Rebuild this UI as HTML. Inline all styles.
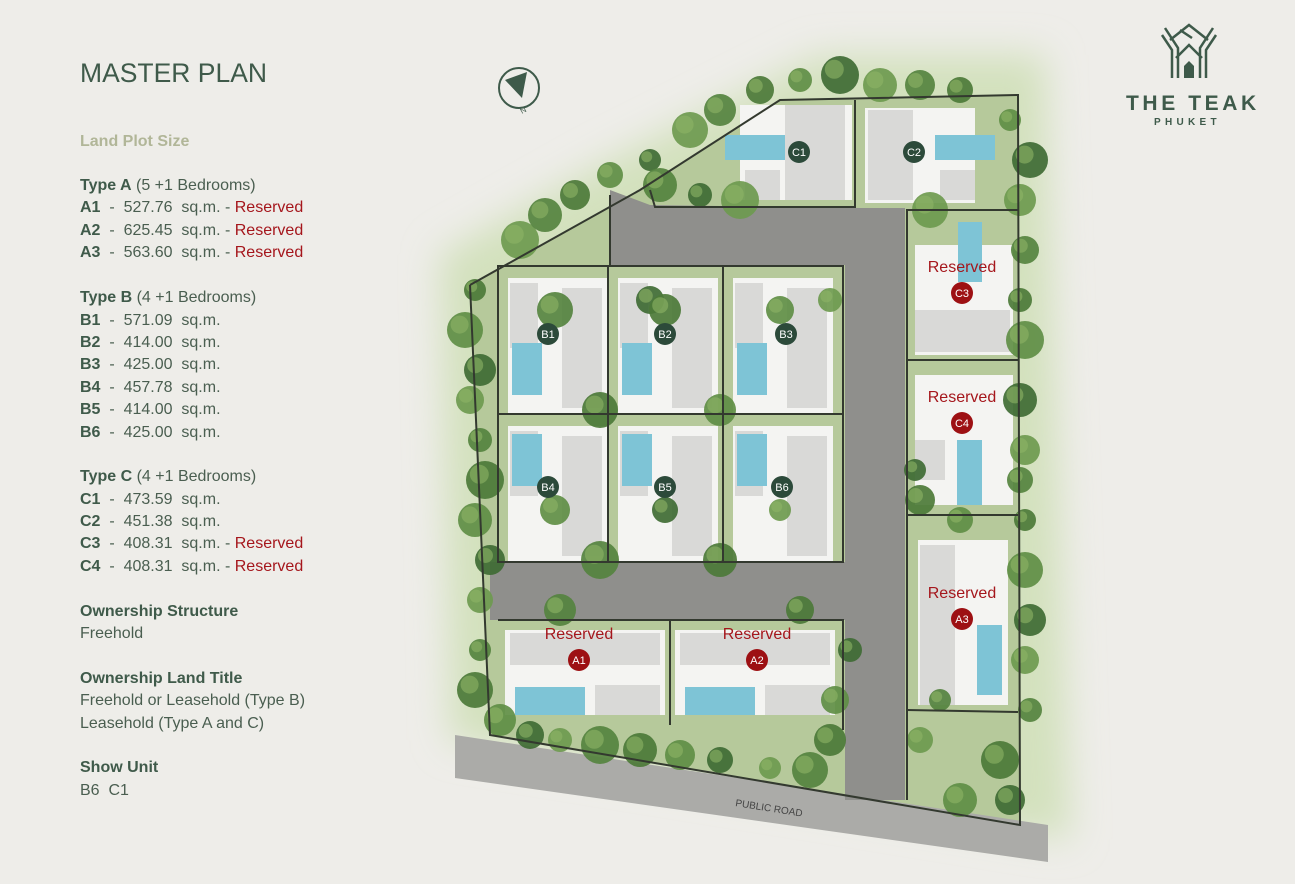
<!DOCTYPE html>
<html><head><meta charset="utf-8">
<style>
html,body{margin:0;padding:0;background:#eeede9;}
body{width:1295px;height:884px;overflow:hidden;position:relative;font-family:"Liberation Sans",sans-serif;}
.panel{position:absolute;left:80px;top:0;color:#4a5e50;font-size:16px;}
.panel div{position:absolute;white-space:pre;left:0;}
.t{font-size:26.5px;color:#3f5a4a;}
b{color:#3f5a4a;}
.r{color:#a5161c;}
.g{color:#b1b698;font-weight:bold;}
svg{position:absolute;left:0;top:0;}
</style></head><body>
<svg id="s" width="1295" height="884" viewBox="0 0 1295 884">
<defs>
<filter id="bl" x="-20%" y="-20%" width="140%" height="140%"><feGaussianBlur stdDeviation="18"/></filter>
</defs>
<polygon points="440,255 600,165 820,55 1045,55 1070,840 450,740" fill="#d3e1bd" filter="url(#bl)"/>
<polygon points="470,285 640,190 780,100 1018,95 1020,825 490,735" fill="#b6c99b"/>
<polygon points="455,735 1048,825 1048,862 455,778" fill="#ababa8"/>
<polygon points="610,190 650,205 860,208 905,208 905,800 845,800 845,620 490,620 490,562 845,562 845,265 610,265" fill="#8f8f8c"/>
<g id="plots"></g>
<g id="trees"></g>
<g fill="none" stroke="#33392f" stroke-width="2">
<polyline points="470,285 640,190 780,100 1018,95 1020,825 490,735 470,285"/>
<polyline points="610,195 610,265"/>
<polyline points="650,190 655,207 855,207 855,100"/>
<rect x="498" y="266" width="345" height="296"/>
<line x1="608" y1="266" x2="608" y2="562"/><line x1="723" y1="266" x2="723" y2="562"/>
<line x1="498" y1="414" x2="843" y2="414"/>
<polyline points="498,620 843,620 843,730"/><line x1="670" y1="620" x2="670" y2="725"/>
<polyline points="907,800 907,210 1018,210"/>
<line x1="907" y1="360" x2="1018" y2="360"/><line x1="907" y1="515" x2="1018" y2="515"/><line x1="907" y1="710" x2="1018" y2="712"/>
</g>
<text x="735" y="806" font-size="10" fill="#444" transform="rotate(9 735 806)" font-family="Liberation Sans">PUBLIC ROAD</text>
<g id="labels"></g>
<circle cx="519" cy="88" r="20" fill="none" stroke="#3e5a4a" stroke-width="2"/>
<polygon points="505,80 527,72 522,98" fill="#3e5a4a"/>
<text x="522" y="114" font-size="8" fill="#3e5a4a" transform="rotate(-30 522 114)">N</text>
<g stroke="#3e5a4a" stroke-width="2.5" fill="none">
<path d="M1172,78 V50 L1162,35 M1178,78 V48 L1165,28 M1206,78 V50 L1216,35 M1200,78 V48 L1213,28 M1176,58 L1189,45 L1202,58 M1170,40 L1189,25 L1208,40 M1180,30 L1192,38"/>
</g>
<path d="M1184,78 V66 L1189,61 L1194,66 V78 Z" fill="#3e5a4a"/>
<text x="1126" y="110" font-size="21" font-weight="bold" fill="#3e5a4a" letter-spacing="3.6" font-family="Liberation Sans">THE TEAK</text>
<text x="1154" y="125" font-size="10" font-weight="bold" fill="#3e5a4a" letter-spacing="4.3" font-family="Liberation Sans">PHUKET</text>
</svg>
<div class="panel">
<div class="t" style="top:58px">MASTER PLAN</div>
<div class="g" style="top:133px">Land Plot Size</div>
<div style="top:177px"><b>Type A</b> (5 +1 Bedrooms)</div>
<div style="top:199px"><b>A1</b>  -  527.76  sq.m. - <span class="r">Reserved</span></div>
<div style="top:222px"><b>A2</b>  -  625.45  sq.m. - <span class="r">Reserved</span></div>
<div style="top:244px"><b>A3</b>  -  563.60  sq.m. - <span class="r">Reserved</span></div>
<div style="top:289px"><b>Type B</b> (4 +1 Bedrooms)</div>
<div style="top:312px"><b>B1</b>  -  571.09  sq.m.</div>
<div style="top:334px"><b>B2</b>  -  414.00  sq.m.</div>
<div style="top:356px"><b>B3</b>  -  425.00  sq.m.</div>
<div style="top:379px"><b>B4</b>  -  457.78  sq.m.</div>
<div style="top:401px"><b>B5</b>  -  414.00  sq.m.</div>
<div style="top:424px"><b>B6</b>  -  425.00  sq.m.</div>
<div style="top:468px"><b>Type C</b> (4 +1 Bedrooms)</div>
<div style="top:491px"><b>C1</b>  -  473.59  sq.m.</div>
<div style="top:513px"><b>C2</b>  -  451.38  sq.m.</div>
<div style="top:535px"><b>C3</b>  -  408.31  sq.m. - <span class="r">Reserved</span></div>
<div style="top:558px"><b>C4</b>  -  408.31  sq.m. - <span class="r">Reserved</span></div>
<div style="top:603px"><b>Ownership Structure</b></div>
<div style="top:625px">Freehold</div>
<div style="top:670px"><b>Ownership Land Title</b></div>
<div style="top:692px">Freehold or Leasehold (Type B)</div>
<div style="top:715px">Leasehold (Type A and C)</div>
<div style="top:759px"><b>Show Unit</b></div>
<div style="top:782px">B6  C1</div>
</div>
<script>
var NS="http://www.w3.org/2000/svg";
function el(p,t,a,txt){var e=document.createElementNS(NS,t);for(var k in a)e.setAttribute(k,a[k]);if(txt)e.textContent=txt;p.appendChild(e);return e;}
var P=document.getElementById("plots"),T=document.getElementById("trees"),L=document.getElementById("labels");
function R(x,y,w,h,f){el(P,"rect",{x:x,y:y,width:w,height:h,fill:f});}
[[500,268],[610,268],[725,268],[500,416],[610,416],[725,416]].forEach(function(p,i){
 var x=p[0],y=p[1],top=i<3;
 R(x+8,y+10,100,135,"#f4f4f2");
 R(x+10,y+15,28,65,"#d9d9d7");
 R(x+62,y+20,40,120,"#d9d9d7");
 R(x+12,top?y+75:y+18,30,52,"#7ec4d6");
});
[[505,625],[675,625]].forEach(function(p){var x=p[0],y=p[1];
 R(x,y+5,160,85,"#f4f4f2");R(x+5,y+8,150,32,"#d9d9d7");R(x+90,y+60,65,30,"#d9d9d7");R(x+10,y+62,70,28,"#7ec4d6");});
R(740,105,112,95,"#f4f4f2");R(785,105,60,95,"#d9d9d7");R(745,170,35,30,"#d9d9d7");R(725,135,60,25,"#7ec4d6");
R(865,108,110,95,"#f4f4f2");R(868,110,45,90,"#d9d9d7");R(940,170,35,30,"#d9d9d7");R(935,135,60,25,"#7ec4d6");
R(915,245,98,110,"#f4f4f2");R(915,310,95,42,"#d9d9d7");R(958,222,24,60,"#7ec4d6");
R(915,375,98,130,"#f4f4f2");R(915,440,30,40,"#d9d9d7");R(957,440,25,65,"#7ec4d6");
R(918,540,90,165,"#f4f4f2");R(920,545,35,160,"#d9d9d7");R(977,625,25,70,"#7ec4d6");
var pts=[[475,290],[465,330],[480,370],[470,400],[480,440],[485,480],[475,520],[490,560],[480,600],[480,650],[475,690],[500,720],[530,735],[560,740],[600,745],[640,750],[680,755],[720,760],[770,768],[810,770],[830,740],[835,700],[850,650],
[520,240],[545,215],[575,195],[610,175],[650,160],[690,130],[720,110],[760,90],[800,80],[840,75],[880,85],[920,85],[960,90],[1010,120],[1030,160],[1020,200],[1025,250],[1020,300],[1025,340],[1020,400],[1025,450],[1020,480],[1025,520],[1025,570],[1030,620],[1025,660],[1030,710],[1000,760],[960,800],[1010,800],[920,740],[940,700],
[600,410],[720,410],[650,300],[830,300],[600,560],[720,560],[555,510],[665,510],[780,510],[555,310],[665,310],[780,310],[700,195],[740,200],[660,185],[920,500],[960,520],[915,470],[930,210],[560,610],[800,610]];
var cols=["#4c7a38","#5f8e45","#3f6b34","#6e9a4f","#55833f"];
pts.forEach(function(p,i){var r=11+(i*7)%9;
 el(T,"circle",{cx:p[0],cy:p[1],r:r,fill:cols[i%5],opacity:0.92});
 el(T,"circle",{cx:p[0]-r*0.3,cy:p[1]-r*0.3,r:r*0.5,fill:"#8db466",opacity:0.6});});
function lab(x,y,t,res){el(L,"circle",{cx:x,cy:y,r:11,fill:res?"#9d1013":"#2c4a3a"});
 el(L,"text",{x:x,y:y+4,"font-size":"11","text-anchor":"middle",fill:"#fff","font-family":"Liberation Sans"},t);
 if(res)el(L,"text",{x:x,y:y-21,"font-size":"16","text-anchor":"middle",fill:"#a5161c","font-family":"Liberation Sans"},"Reserved");}
lab(548,334,"B1");lab(665,334,"B2");lab(786,334,"B3");lab(548,487,"B4");lab(665,487,"B5");lab(782,487,"B6");
lab(799,152,"C1");lab(914,152,"C2");lab(962,293,"C3",1);lab(962,423,"C4",1);lab(962,619,"A3",1);lab(579,660,"A1",1);lab(757,660,"A2",1);
</script>
</body></html>
